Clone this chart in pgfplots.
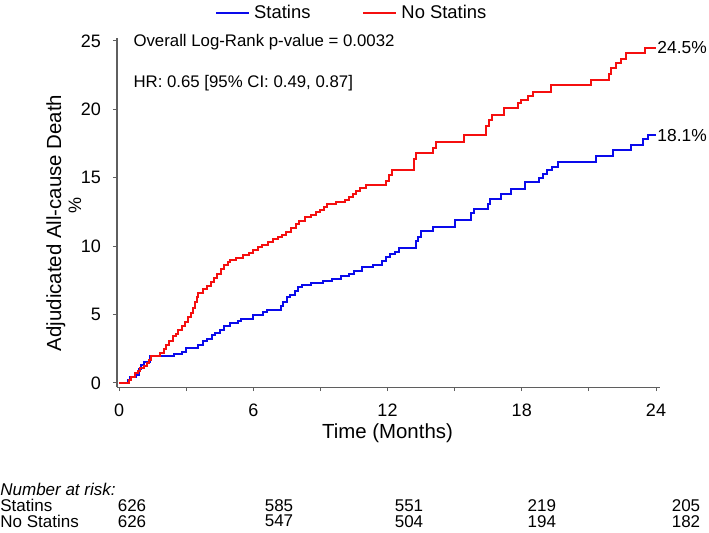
\documentclass[border=0pt]{standalone}
\usepackage{fontspec}
\setmainfont{Liberation Sans}
\usepackage{pgfplots}
\pgfplotsset{compat=1.18}
\usepackage{pgfplotstable}

\definecolor{kmblue}{RGB}{10,10,235}
\definecolor{kmred}{RGB}{245,15,15}
\definecolor{axgray}{RGB}{95,95,95}

% Kaplan-Meier steps: time (months), cumulative death (%)
\pgfplotstableread{
t v
0 0
0.38 0.2
0.5 0.45
0.75 0.6
0.9 1.05
1.0 1.35
1.1 1.55
1.4 1.95
2.45 2.1
2.8 2.3
3.0 2.55
3.55 2.8
3.75 3.05
3.95 3.25
4.15 3.5
4.3 3.65
4.5 3.9
4.7 4.15
4.95 4.4
5.3 4.55
5.45 4.7
6.0 5.0
6.45 5.2
6.6 5.35
7.25 5.6
7.35 5.95
7.5 6.25
7.65 6.45
7.85 6.75
8.0 7.0
8.2 7.15
8.6 7.28
9.1 7.45
9.5 7.6
9.9 7.8
10.3 8.0
10.5 8.2
10.85 8.45
11.35 8.6
11.75 8.9
11.95 9.2
12.1 9.45
12.35 9.6
12.5 9.9
13.28 10.35
13.38 10.7
13.48 11.1
14.03 11.4
15.0 11.95
15.75 12.45
15.85 12.75
16.5 13.1
16.6 13.45
17.08 13.85
17.52 14.2
18.15 14.7
18.78 15.0
18.95 15.3
19.15 15.55
19.33 15.8
19.6 16.15
21.32 16.6
22.08 17.0
22.9 17.4
23.42 17.8
23.65 18.1
24.0 18.1
}\statins

\pgfplotstableread{
t v
0 0
0.45 0.2
0.55 0.45
0.72 0.7
0.85 0.9
0.95 1.1
1.1 1.25
1.25 1.45
1.35 1.65
1.45 1.95
1.85 2.2
2.0 2.5
2.1 2.8
2.25 3.1
2.4 3.4
2.55 3.6
2.65 3.85
2.8 4.2
2.95 4.45
3.1 4.8
3.2 5.1
3.3 5.5
3.4 5.9
3.5 6.3
3.55 6.6
3.75 6.9
3.92 7.1
4.1 7.4
4.25 7.7
4.4 8.0
4.55 8.3
4.7 8.6
4.85 8.85
4.95 9.0
5.25 9.15
5.55 9.35
5.8 9.5
6.0 9.7
6.2 9.95
6.4 10.1
6.65 10.3
6.9 10.55
7.1 10.7
7.3 10.85
7.45 11.05
7.7 11.3
7.9 11.6
8.05 11.85
8.3 12.1
8.6 12.3
8.8 12.5
9.0 12.65
9.15 12.9
9.3 13.1
9.7 13.25
10.1 13.4
10.3 13.6
10.45 13.8
10.6 14.05
10.75 14.25
11.05 14.45
11.95 14.75
12.08 15.2
12.22 15.6
13.17 16.4
13.28 16.8
14.05 17.2
14.15 17.6
15.42 18.1
16.4 18.75
16.52 19.2
16.68 19.6
17.22 20.1
17.82 20.45
17.98 20.7
18.3 20.95
18.5 21.3
19.3 21.8
21.1 22.15
21.92 22.6
22.0 23.0
22.2 23.4
22.45 23.7
22.65 24.1
23.5 24.5
24.0 24.5
}\nostatins

\begin{document}
\begin{tikzpicture}
\useasboundingbox (-58.5pt,-72.45pt) rectangle (296pt,193.55pt);
\begin{axis}[
    at={(0pt,0pt)}, anchor=south west,
    x=11.1875pt, y=6.84pt,
    xmin=-0.09, xmax=24.2, ymin=-0.3, ymax=25.2,
    axis x line*=bottom, axis y line*=left,
    axis line style={axgray, line width=0.6pt},
    xtick={0,3,...,24}, xticklabels={0,,6,,12,,18,,24},
    ytick={0,5,...,25},
    tick align=outside, major tick length=2pt,
    tick style={axgray, line width=0.5pt},
    /pgf/number format/assume math mode=true,
    tick label style={font=\fontsize{9}{10}\selectfont},
    xticklabel style={yshift=-3pt},
    yticklabel style={xshift=-2.5pt},
    clip=false,
    legend columns=2,
    legend style={at={(rel axis cs:0.18,1.0725)}, anchor=west, draw=none, fill=none,
        inner sep=0pt, font=\fontsize{9.2}{10}\selectfont,
        /tikz/every even column/.append style={column sep=24pt}},
    legend image code/.code={\draw[#1, line width=1pt] (0pt,0pt) -- (16.5pt,0pt);},
]
\addplot[const plot, kmblue, line width=1pt] table[x=t, y=v] {\statins};
\addplot[const plot, kmred, line width=1pt] table[x=t, y=v] {\nostatins};
\legend{Statins, No Statins}

\node[anchor=west, inner sep=0.5pt, font=\fontsize{8.7}{10}\selectfont] at (axis cs:24,24.5) {24.5\%};
\node[anchor=west, inner sep=0.5pt, font=\fontsize{8.7}{10}\selectfont] at (axis cs:24,18.1) {18.1\%};

\node[anchor=west, inner sep=0pt, font=\fontsize{8.4}{10}\selectfont] at (axis cs:0.63,24.9) {Overall Log-Rank p-value = 0.0032};
\node[anchor=west, inner sep=0pt, font=\fontsize{8.4}{10}\selectfont] at (axis cs:0.63,21.9) {HR: 0.65 [95\% CI: 0.49, 0.87]};

\node[rotate=90, font=\fontsize{10.2}{12}\selectfont] at (axis cs:-2.82,11.7) {Adjudicated All-cause Death};
\node[rotate=90, font=\fontsize{9}{10}\selectfont] at (axis cs:-1.97,13.0) {\%};
\node[font=\fontsize{10.2}{12}\selectfont] at (axis cs:12,-3.65) {Time (Months)};

% number at risk
\begin{scope}[every node/.style={font=\fontsize{8.5}{10}\selectfont, inner sep=0pt}]
\node[anchor=west, font=\fontsize{8.5}{10}\selectfont\itshape] at (axis cs:-5.32,-7.75) {Number at risk:};
\node[anchor=west] at (axis cs:-5.32,-8.95) {Statins};
\node[anchor=west] at (axis cs:-5.32,-10.1) {No Statins};
\node at (axis cs:0.58,-8.95) {626};
\node at (axis cs:7.15,-8.95) {585};
\node at (axis cs:12.96,-8.95) {551};
\node at (axis cs:18.9,-8.95) {219};
\node at (axis cs:25.34,-8.95) {205};
\node at (axis cs:0.58,-10.1) {626};
\node at (axis cs:7.15,-10.1) {547};
\node at (axis cs:12.96,-10.1) {504};
\node at (axis cs:18.9,-10.1) {194};
\node at (axis cs:25.34,-10.1) {182};
\end{scope}
\end{axis}
\end{tikzpicture}
\end{document}
